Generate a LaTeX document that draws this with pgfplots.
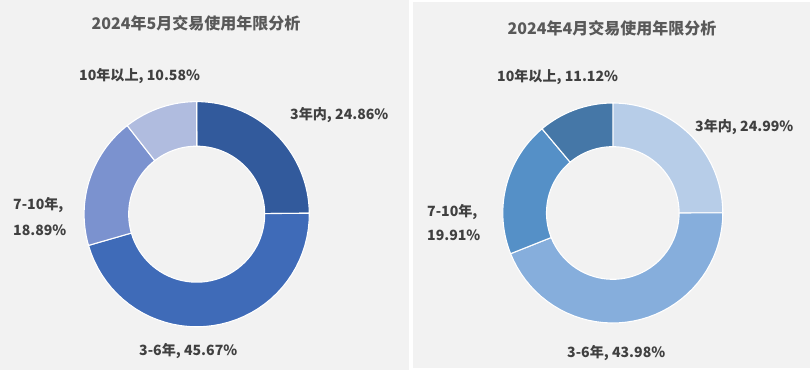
\documentclass[border=0pt]{standalone}
\usepackage{pgfplots}
\pgfplotsset{compat=1.18}
\usepackage{fontspec}
\setmainfont{Noto Sans CJK SC}
\definecolor{panel}{HTML}{F2F2F2}
\definecolor{txt}{HTML}{404040}
\definecolor{ttl}{HTML}{595959}
\definecolor{LA}{HTML}{325A9C}
\definecolor{LB}{HTML}{3F6BB8}
\definecolor{LC}{HTML}{7B92CF}
\definecolor{LD}{HTML}{B0BCDF}
\definecolor{RA}{HTML}{B7CDE8}
\definecolor{RB}{HTML}{86AEDC}
\definecolor{RC}{HTML}{5590C7}
\definecolor{RD}{HTML}{4577A7}
% donut segment: cx, cy, R, r, start %, end %, colour
\newcommand{\seg}[7]{%
\addplot[fill=#7, draw=white, line width=1.1pt, domain=0:81, samples=82, variable=\t]
 ({#1+ifthenelse(\t<40.5,#3,#4)*cos(90-3.6*(#5)+((90-3.6*(#6))-(90-3.6*(#5)))*ifthenelse(\t<40.5,\t,81-\t)/40)},
  {#2+ifthenelse(\t<40.5,#3,#4)*sin(90-3.6*(#5)+((90-3.6*(#6))-(90-3.6*(#5)))*ifthenelse(\t<40.5,\t,81-\t)/40)}) -- cycle;
}
\begin{document}
\begin{tikzpicture}
\begin{axis}[at={(0,0)}, anchor=south west, width=812pt, height=370pt, scale only axis,
  xmin=0, xmax=812, ymin=0, ymax=370, hide axis, clip=false]
\fill[white] (axis cs:0,0) rectangle (axis cs:812,370);
\fill[panel] (axis cs:0,0) rectangle (axis cs:409,370);
\fill[panel] (axis cs:413,2) rectangle (axis cs:810,368);
% May 2024: 3年内 24.86, 3-6年 45.67, 7-10年 18.89, 10年以上 10.58
\seg{196.7}{155.8}{112.6}{68}{0}{24.86}{LA}
\seg{196.7}{155.8}{112.6}{68}{24.86}{24.86+45.67}{LB}
\seg{196.7}{155.8}{112.6}{68}{24.86+45.67}{24.86+45.67+18.89}{LC}
\seg{196.7}{155.8}{112.6}{68}{24.86+45.67+18.89}{24.86+45.67+18.89+10.58}{LD}
% April 2024: 24.99, 43.98, 19.91, 11.12
\seg{612.8}{157}{110}{66.3}{0}{24.99}{RA}
\seg{612.8}{157}{110}{66.3}{24.99}{24.99+43.98}{RB}
\seg{612.8}{157}{110}{66.3}{24.99+43.98}{24.99+43.98+19.91}{RC}
\seg{612.8}{157}{110}{66.3}{24.99+43.98+19.91}{24.99+43.98+19.91+11.12}{RD}
\begin{scope}[every node/.style={font=\fontsize{14.1}{17}\selectfont\bfseries, text=txt, inner sep=0pt}]
\node[font=\fontsize{16}{19}\selectfont\bfseries, text=ttl] at (axis cs:196,347) {2024年5月交易使用年限分析};
\node[font=\fontsize{16}{19}\selectfont\bfseries, text=ttl] at (axis cs:612,342) {2024年4月交易使用年限分析};
\node[anchor=west] at (axis cs:79,294) {10年以上, 10.58\%};
\node[anchor=west] at (axis cs:290,255) {3年内, 24.86\%};
\node[anchor=west] at (axis cs:13,165) {7-10年,};
\node[anchor=west] at (axis cs:13,140) {18.89\%};
\node[anchor=west] at (axis cs:139,19.3) {3-6年, 45.67\%};
\node[anchor=west] at (axis cs:497,293.3) {10年以上, 11.12\%};
\node[anchor=west] at (axis cs:695,243.3) {3年内, 24.99\%};
\node[anchor=west] at (axis cs:427,158.3) {7-10年,};
\node[anchor=west] at (axis cs:427,135) {19.91\%};
\node[anchor=west] at (axis cs:567,17.3) {3-6年, 43.98\%};
\end{scope}
\end{axis}
\end{tikzpicture}
\end{document}
